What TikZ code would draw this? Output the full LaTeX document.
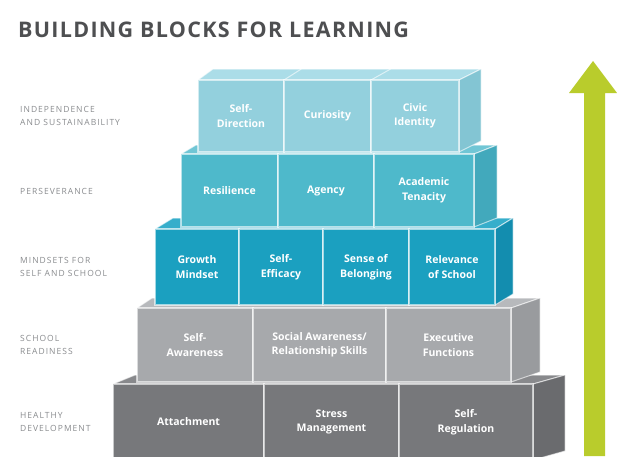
\documentclass[tikz,border=0pt]{standalone}
\usepackage{fontspec}
\setmainfont{Open Sans}
\newfontfamily\titlefont{Open Sans}[LetterSpace=6]
\newfontfamily\labelfont{Open Sans}[LetterSpace=12]
\definecolor{titlegray}{HTML}{4E4F51}
\definecolor{labelgray}{HTML}{8A8C8F}
\definecolor{arrowgreen}{HTML}{B9CC2C}
\definecolor{aFront}{HTML}{93D0DD}
\definecolor{aTop}{HTML}{ABDDE8}
\definecolor{aSide}{HTML}{83C5D3}
\definecolor{bFront}{HTML}{4EB9CB}
\definecolor{bTop}{HTML}{70C6D5}
\definecolor{bSide}{HTML}{42A9BC}
\definecolor{cFront}{HTML}{1BA0C0}
\definecolor{cTop}{HTML}{36AECB}
\definecolor{cSide}{HTML}{138DAF}
\definecolor{dFront}{HTML}{A7A9AC}
\definecolor{dTop}{HTML}{B7B9BC}
\definecolor{dSide}{HTML}{999B9E}
\definecolor{eFront}{HTML}{77787B}
\definecolor{eTop}{HTML}{88898C}
\definecolor{eSide}{HTML}{6A6B6E}
\newcommand\tierfaces[9]{%
  \filldraw[faceedge, fill=#8] (#1,#3) -- (#1+#5,#3-#7) -- (#2+#6,#3-#7) -- (#2,#3) -- cycle;
  \filldraw[faceedge, fill=#9] (#2,#3) -- (#2+#6,#3-#7) -- (#2+#6,#4-#7) -- (#2,#4) -- cycle;
}
\begin{document}
\begin{tikzpicture}[x=1pt,y=-1pt,
  blk/.style={rectangle, inner sep=0pt, outer sep=0pt, draw=white, draw opacity=0.6,
    line width=1.3pt, text=white, font=\bfseries\fontsize{10.5}{14.5}\selectfont, align=center},
  lvl/.style={anchor=west, align=left, text=labelgray, inner sep=0pt,
    font=\labelfont\fontsize{8.5}{13}\selectfont},
  faceedge/.style={draw=white, draw opacity=0.6, line width=1pt, line join=round}]
\useasboundingbox (0,0) rectangle (617,456);
\fill[white] (0,0) rectangle (617,456);

% title
\node[anchor=base west, inner sep=0pt, text=titlegray,
  font=\titlefont\bfseries\fontsize{21.5}{21.5}\selectfont] (title) at (18,37) {BUILDING BLOCKS FOR LEARNING};

% arrow
\fill[arrowgreen] (584,456) -- (584,93) -- (569,93) -- (593,61) -- (617,93) -- (605,93) -- (605,456) -- cycle;

% level labels
\node[lvl] (l1) at (20,115.5) {INDEPENDENCE\\AND SUSTAINABILITY};
\node[lvl] (l2) at (20,191) {PERSEVERANCE};
\node[lvl] (l3) at (20,266.5) {MINDSETS FOR\\SELF AND SCHOOL};
\node[lvl] (l4) at (20,345) {SCHOOL\\READINESS};
\node[lvl] (l5) at (20,421.5) {HEALTHY\\DEVELOPMENT};

% tier 5 : healthy development
\tierfaces{113}{533}{384}{460}{22}{32}{9}{eTop}{eSide}
\node[blk, fill=eFront, minimum width=151, minimum height=76] (e1) at (188.5,422) {Attachment};
\node[blk, fill=eFront, minimum width=135, minimum height=76] (e2) at (331.5,422) {Stress\\Management};
\node[blk, fill=eFront, minimum width=134, minimum height=76] (e3) at (466,422) {Self-\\Regulation};

% tier 4 : school readiness
\tierfaces{137}{511}{308}{382}{15}{29}{10}{dTop}{dSide}
\node[blk, fill=dFront, minimum width=116, minimum height=74] (d1) at (195,345) {Self-\\Awareness};
\node[blk, fill=dFront, minimum width=133, minimum height=74] (d2) at (319.5,345) {Social Awareness/\\Relationship Skills};
\node[blk, fill=dFront, minimum width=125, minimum height=74] (d3) at (448.5,345) {Executive\\Functions};

% tier 3 : mindsets
\tierfaces{155}{495}{229}{305}{18}{18}{11}{cTop}{cSide}
\node[blk, fill=cFront, minimum width=84, minimum height=76] (c1) at (197,267) {Growth\\Mindset};
\node[blk, fill=cFront, minimum width=84, minimum height=76] (c2) at (281,267) {Self-\\Efficacy};
\node[blk, fill=cFront, minimum width=86, minimum height=76] (c3) at (366,267) {Sense of\\Belonging};
\node[blk, fill=cFront, minimum width=86, minimum height=76] (c4) at (452,267) {Relevance\\of School};

% tier 2 : perseverance
\tierfaces{181}{474}{154}{227}{15}{23}{9}{bTop}{bSide}
\node[blk, fill=bFront, minimum width=97, minimum height=73] (b1) at (229.5,190.5) {Resilience};
\node[blk, fill=bFront, minimum width=96, minimum height=73] (b2) at (326,190.5) {Agency};
\node[blk, fill=bFront, minimum width=100, minimum height=73] (b3) at (424,190.5) {Academic\\Tenacity};

% tier 1 : independence
\tierfaces{198}{459}{80}{152}{15}{22}{11}{aTop}{aSide}
\draw[faceedge] (284,80) -- (301.3,69);
\draw[faceedge] (371,80) -- (390.6,69);
\node[blk, fill=aFront, minimum width=86, minimum height=72] (a1) at (241,116) {Self-\\Direction};
\node[blk, fill=aFront, minimum width=87, minimum height=72] (a2) at (327.5,116) {Curiosity};
\node[blk, fill=aFront, minimum width=88, minimum height=72] (a3) at (415,116) {Civic\\Identity};
\end{tikzpicture}
\end{document}
